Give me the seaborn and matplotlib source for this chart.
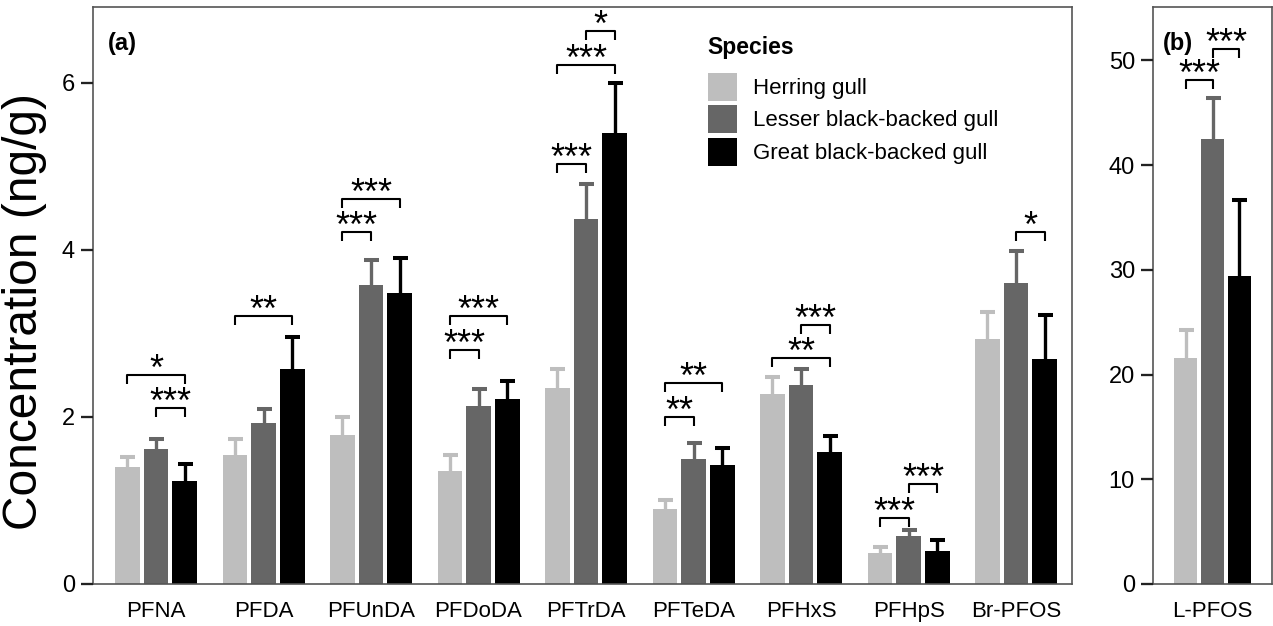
import numpy as np
import pandas as pd
import seaborn as sns
from matplotlib import pyplot as plt
from matplotlib.patches import Patch
from matplotlib.lines import Line2D
from matplotlib.container import BarContainer

compounds = ["PFNA", "PFDA", "PFUnDA", "PFDoDA", "PFTrDA", "PFTeDA", "PFHxS", "PFHpS", "Br-PFOS"]
species = ["Herring gull", "Lesser black-backed gull", "Great black-backed gull"]
colors = ["#bebebe", "#666666", "#000000"]

# mean and top of error bar, panel (a)
herring_mean = [1.40, 1.54, 1.79, 1.35, 2.35, 0.90, 2.27, 0.37, 2.93]
herring_upper = [1.52, 1.74, 2.00, 1.55, 2.58, 1.00, 2.48, 0.44, 3.26]
lesser_mean = [1.62, 1.93, 3.58, 2.13, 4.37, 1.50, 2.38, 0.58, 3.60]
lesser_upper = [1.74, 2.10, 3.88, 2.33, 4.79, 1.69, 2.58, 0.65, 3.99]
great_mean = [1.23, 2.57, 3.49, 2.21, 5.40, 1.42, 1.58, 0.40, 2.70]
great_upper = [1.44, 2.96, 3.91, 2.43, 6.00, 1.63, 1.77, 0.53, 3.22]

# panel (b)
lpfos = ["L-PFOS"]
lpfos_mean = [21.6, 42.5, 29.4]
lpfos_upper = [24.3, 46.4, 36.7]

# significance: (compound index, species from, species to, bracket height, label)
sig_a = [
    (0, 0, 2, 2.50, "*"), (0, 1, 2, 2.11, "***"),
    (1, 0, 2, 3.21, "**"),
    (2, 0, 1, 4.22, "***"), (2, 0, 2, 4.61, "***"),
    (3, 0, 1, 2.80, "***"), (3, 0, 2, 3.21, "***"),
    (4, 0, 1, 5.03, "***"), (4, 0, 2, 6.22, "***"), (4, 1, 2, 6.62, "*"),
    (5, 0, 1, 2.00, "**"), (5, 0, 2, 2.41, "**"),
    (6, 0, 2, 2.71, "**"), (6, 1, 2, 3.10, "***"),
    (7, 0, 1, 0.79, "***"), (7, 1, 2, 1.20, "***"),
    (8, 1, 2, 4.22, "*"),
]
sig_b = [(0, 0, 1, 48.1, "***"), (0, 1, 2, 51.05, "***")]


def bar_containers(ax):
    return [c for c in ax.containers if isinstance(c, BarContainer)]


def bars(ax, cats, means, uppers):
    df = pd.DataFrame({
        "compound": list(cats) * 3,
        "species": np.repeat(species, len(cats)),
        "conc": np.concatenate(means),
    })
    sns.barplot(data=df, x="compound", y="conc", hue="species", order=cats,
                hue_order=species, palette=colors, saturation=1, width=0.8,
                gap=0.14, errorbar=None, legend=False, linewidth=0, ax=ax)
    for j, cont in enumerate(bar_containers(ax)):
        xs = np.array([p.get_x() + p.get_width() / 2 for p in cont])
        hs = np.array([p.get_height() for p in cont])
        eb = ax.errorbar(xs, hs, yerr=[np.zeros(len(hs)), np.array(uppers[j]) - hs],
                         fmt="none", ecolor=colors[j], elinewidth=2.4, capsize=5.4,
                         capthick=2.9, zorder=1)
        # only the upper cap
        eb[1][0].set_visible(False)


def brackets(ax, sigs, drop):
    conts = bar_containers(ax)
    for i, s1, s2, y, lab in sigs:
        p1 = conts[s1][i]
        p2 = conts[s2][i]
        x1 = p1.get_x() + p1.get_width() / 2
        x2 = p2.get_x() + p2.get_width() / 2
        ax.plot([x1, x1, x2, x2], [y - drop, y, y, y - drop], color="black",
                lw=1.5, clip_on=False, solid_capstyle="butt")
        ax.annotate(lab, xy=((x1 + x2) / 2, y), xytext=(0, -3.5),
                    textcoords="offset points", ha="center", va="baseline",
                    fontsize=26, color="black")


def style(ax):
    ax.set_xlabel("")
    ax.set_ylabel("")
    for sp in ax.spines.values():
        sp.set_visible(True)
        sp.set_color("#555555")
        sp.set_linewidth(1.2)
    ax.tick_params(axis="x", bottom=False, length=0, labelsize=16, pad=12,
                   labelcolor="black")
    ax.tick_params(axis="y", left=True, direction="out", length=9, width=1.5,
                   color="#222222", labelsize=17, pad=4, labelcolor="black")


def fig_ticks(fig, ax):
    # tick marks as figure-level lines, left of the spine
    to_fig = fig.transFigure.inverted()
    for v in ax.get_yticks():
        x0, y0 = to_fig.transform(ax.transData.transform((ax.get_xlim()[0], v)))
        dx = 12.5 / fig.bbox.width
        fig.add_artist(Line2D([x0 - dx, x0], [y0, y0], transform=fig.transFigure,
                              color="#222222", lw=1.6, zorder=20,
                              solid_capstyle="butt"))


sns.set_theme(style="ticks")
plt.rcParams["font.family"] = ["Liberation Sans", "DejaVu Sans"]
plt.rcParams["text.color"] = "black"

fig = plt.figure(figsize=(12.73, 6.26), dpi=100)
ax_a = fig.add_axes([93 / 1273, 42 / 626, 979 / 1273, 577 / 626])
ax_b = fig.add_axes([1153 / 1273, 42 / 626, 119 / 1273, 577 / 626])

bars(ax_a, compounds, [herring_mean, lesser_mean, great_mean],
     [herring_upper, lesser_upper, great_upper])
ax_a.set_xlim(-0.586, 8.52)
ax_a.set_ylim(0, 6.91)
ax_a.set_yticks([0, 2, 4, 6])
brackets(ax_a, sig_a, 0.108)
style(ax_a)

bars(ax_b, lpfos, [[v] for v in lpfos_mean], [[v] for v in lpfos_upper])
ax_b.set_xlim(-0.59, 0.59)
ax_b.set_ylim(0, 55.1)
ax_b.set_yticks([0, 10, 20, 30, 40, 50])
brackets(ax_b, sig_b, 0.86)
style(ax_b)

ax_a.text(0.0153, 0.9255, "(a)", transform=ax_a.transAxes, fontsize=17,
          fontweight="bold", va="baseline")
ax_b.text(0.084, 0.9255, "(b)", transform=ax_b.transAxes, fontsize=17,
          fontweight="bold", va="baseline")

handles = [Patch(facecolor=c, edgecolor="none") for c in colors]
ax_a.text(0.628, 0.9185, "Species", transform=ax_a.transAxes, fontsize=16.5,
          fontweight="bold", va="baseline")
ax_a.legend(handles, species, loc="upper left", bbox_to_anchor=(0.628, 0.886),
            frameon=False, fontsize=16, handlelength=1.3, handleheight=1.56,
            labelspacing=0.2, handletextpad=0.72, borderpad=0, borderaxespad=0)

fig.text(25 / 1273, 1 - 312 / 626, "Concentration (ng/g)", rotation=90,
         ha="center", va="center", fontsize=34.5)

fig_ticks(fig, ax_a)
fig_ticks(fig, ax_b)

fig.savefig("out.png", dpi=100)
